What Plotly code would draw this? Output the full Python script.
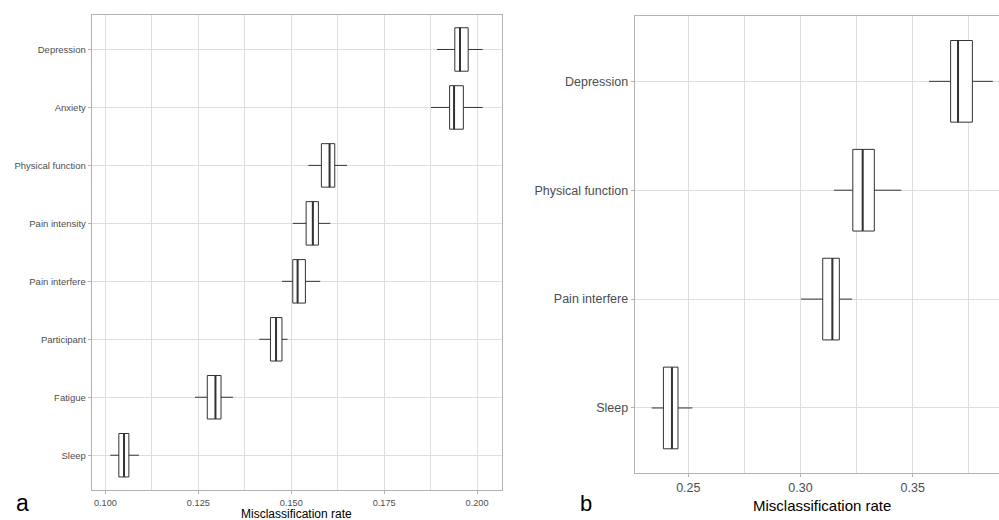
import plotly.graph_objects as go

W, H = 999, 520

# ---------------- Data (bottom to top) ----------------
cats_a = ["Sleep", "Fatigue", "Participant", "Pain interfere", "Pain intensity",
          "Physical function", "Anxiety", "Depression"]
low_a = [0.1013, 0.1241, 0.1414, 0.1475, 0.1504, 0.1546, 0.1876, 0.1892]
q1_a = [0.1036, 0.1274, 0.1444, 0.1504, 0.1540, 0.1581, 0.1926, 0.1940]
med_a = [0.1050, 0.1296, 0.1459, 0.1517, 0.1558, 0.1603, 0.1938, 0.1954]
q3_a = [0.1063, 0.1311, 0.1475, 0.1538, 0.1573, 0.1617, 0.1963, 0.1976]
high_a = [0.1090, 0.1343, 0.1490, 0.1578, 0.1605, 0.1650, 0.2015, 0.2015]
xticks_a = [0.100, 0.125, 0.150, 0.175, 0.200]
xticklabels_a = ["0.100", "0.125", "0.150", "0.175", "0.200"]

cats_b = ["Sleep", "Pain interfere", "Physical function", "Depression"]
low_b = [0.2337, 0.3002, 0.3149, 0.3573]
q1_b = [0.2389, 0.3099, 0.3233, 0.3669]
med_b = [0.2427, 0.3142, 0.3277, 0.3702]
q3_b = [0.2454, 0.3173, 0.3329, 0.3766]
high_b = [0.2518, 0.3230, 0.3449, 0.3857]
xticks_b = [0.25, 0.30, 0.35]
xticklabels_b = ["0.25", "0.30", "0.35"]

axis_title = "Misclassification rate"

# ---------------- Style ----------------
FONT = "Liberation Sans, Arial, sans-serif"
BOX_COL = "#333333"
GRID = "#dedede"
BORDER = "#b3b3b3"
TICKTXT = "#4d4d4d"
BW = 0.75


def px(x):
    return x / W


def py(y):
    return 1 - y / H


def median_lines(med, n):
    xs, ys = [], []
    for i in range(n):
        xs += [med[i], med[i], None]
        ys += [i - BW / 2, i + BW / 2, None]
    return xs, ys


fig = go.Figure()

# Panel a
fig.add_trace(go.Box(
    orientation="h", y=list(range(len(cats_a))),
    q1=q1_a, median=med_a, q3=q3_a, lowerfence=low_a, upperfence=high_a,
    width=BW, whiskerwidth=0, fillcolor="white",
    line=dict(color=BOX_COL, width=1), boxpoints=False,
    xaxis="x", yaxis="y", showlegend=False, hoverinfo="skip"))
mx, my = median_lines(med_a, len(cats_a))
fig.add_trace(go.Scatter(x=mx, y=my, mode="lines", line=dict(color=BOX_COL, width=2),
                         xaxis="x", yaxis="y", showlegend=False, hoverinfo="skip"))

# Panel b
fig.add_trace(go.Box(
    orientation="h", y=list(range(len(cats_b))),
    q1=q1_b, median=med_b, q3=q3_b, lowerfence=low_b, upperfence=high_b,
    width=BW, whiskerwidth=0, fillcolor="white",
    line=dict(color=BOX_COL, width=1), boxpoints=False,
    xaxis="x2", yaxis="y2", showlegend=False, hoverinfo="skip"))
mx, my = median_lines(med_b, len(cats_b))
fig.add_trace(go.Scatter(x=mx, y=my, mode="lines", line=dict(color=BOX_COL, width=2),
                         xaxis="x2", yaxis="y2", showlegend=False, hoverinfo="skip"))

common_x = dict(showgrid=True, gridcolor=GRID, gridwidth=1, zeroline=False,
                showline=True, linecolor=BORDER, linewidth=1, mirror=True,
                ticks="outside", ticklen=3, tickcolor=BORDER, automargin=False)
common_y = dict(showgrid=True, gridcolor=GRID, gridwidth=1, zeroline=False,
                showline=True, linecolor=BORDER, linewidth=1,
                ticks="outside", ticklen=3, tickcolor=BORDER, automargin=False)

fig.update_layout(
    width=W, height=H,
    margin=dict(l=0, r=0, t=0, b=0),
    paper_bgcolor="white", plot_bgcolor="white",
    font=dict(family=FONT, color=TICKTXT),
    xaxis=dict(domain=[px(91.7), px(502)], range=[0.0963, 0.2067],
               tickvals=xticks_a, ticktext=xticklabels_a,
               tickfont=dict(size=9.2, color=TICKTXT), ticklabelstandoff=1,
               minor=dict(dtick=0.0125, tick0=0.1, showgrid=True, gridcolor=GRID,
                          gridwidth=0.8, ticks=""),
               anchor="y", **common_x),
    yaxis=dict(domain=[py(490), py(14.7)], range=[-0.6, len(cats_a) - 0.4],
               tickvals=list(range(len(cats_a))), ticktext=cats_a,
               tickfont=dict(size=9.5, color=TICKTXT), mirror=True,
               anchor="x", **common_y),
    xaxis2=dict(domain=[px(634.7), 1.0], range=[0.2261, 0.38846],
                tickvals=xticks_b, ticktext=xticklabels_b,
                tickfont=dict(size=12.5, color=TICKTXT),
                minor=dict(dtick=0.025, tick0=0.25, showgrid=True, gridcolor=GRID,
                           gridwidth=0.8, ticks=""),
                anchor="y2", **common_x),
    yaxis2=dict(domain=[py(473.3), py(16)], range=[-0.6, len(cats_b) - 0.4],
                tickvals=list(range(len(cats_b))), ticktext=cats_b,
                tickfont=dict(size=12.5, color=TICKTXT), mirror=False,
                anchor="x2", **common_y),
    annotations=[
        dict(text=axis_title, x=px(296.9), y=py(514), xref="paper", yref="paper",
             showarrow=False, xanchor="center", yanchor="middle",
             font=dict(size=12, color="black", family=FONT)),
        dict(text=axis_title, x=px(821.5), y=py(505), xref="paper", yref="paper",
             showarrow=False, xanchor="center", yanchor="middle",
             font=dict(size=15, color="black", family=FONT)),
        dict(text="a", x=px(22), y=py(503), xref="paper", yref="paper",
             showarrow=False, xanchor="center", yanchor="middle",
             font=dict(size=23, color="black", family=FONT)),
        dict(text="b", x=px(586), y=py(503), xref="paper", yref="paper",
             showarrow=False, xanchor="center", yanchor="middle",
             font=dict(size=22, color="black", family=FONT)),
    ],
)

fig.write_html(
    "out.html",
    config={"displayModeBar": False},
    post_script="document.body.style.margin='0';document.body.style.overflow='hidden';",
)
